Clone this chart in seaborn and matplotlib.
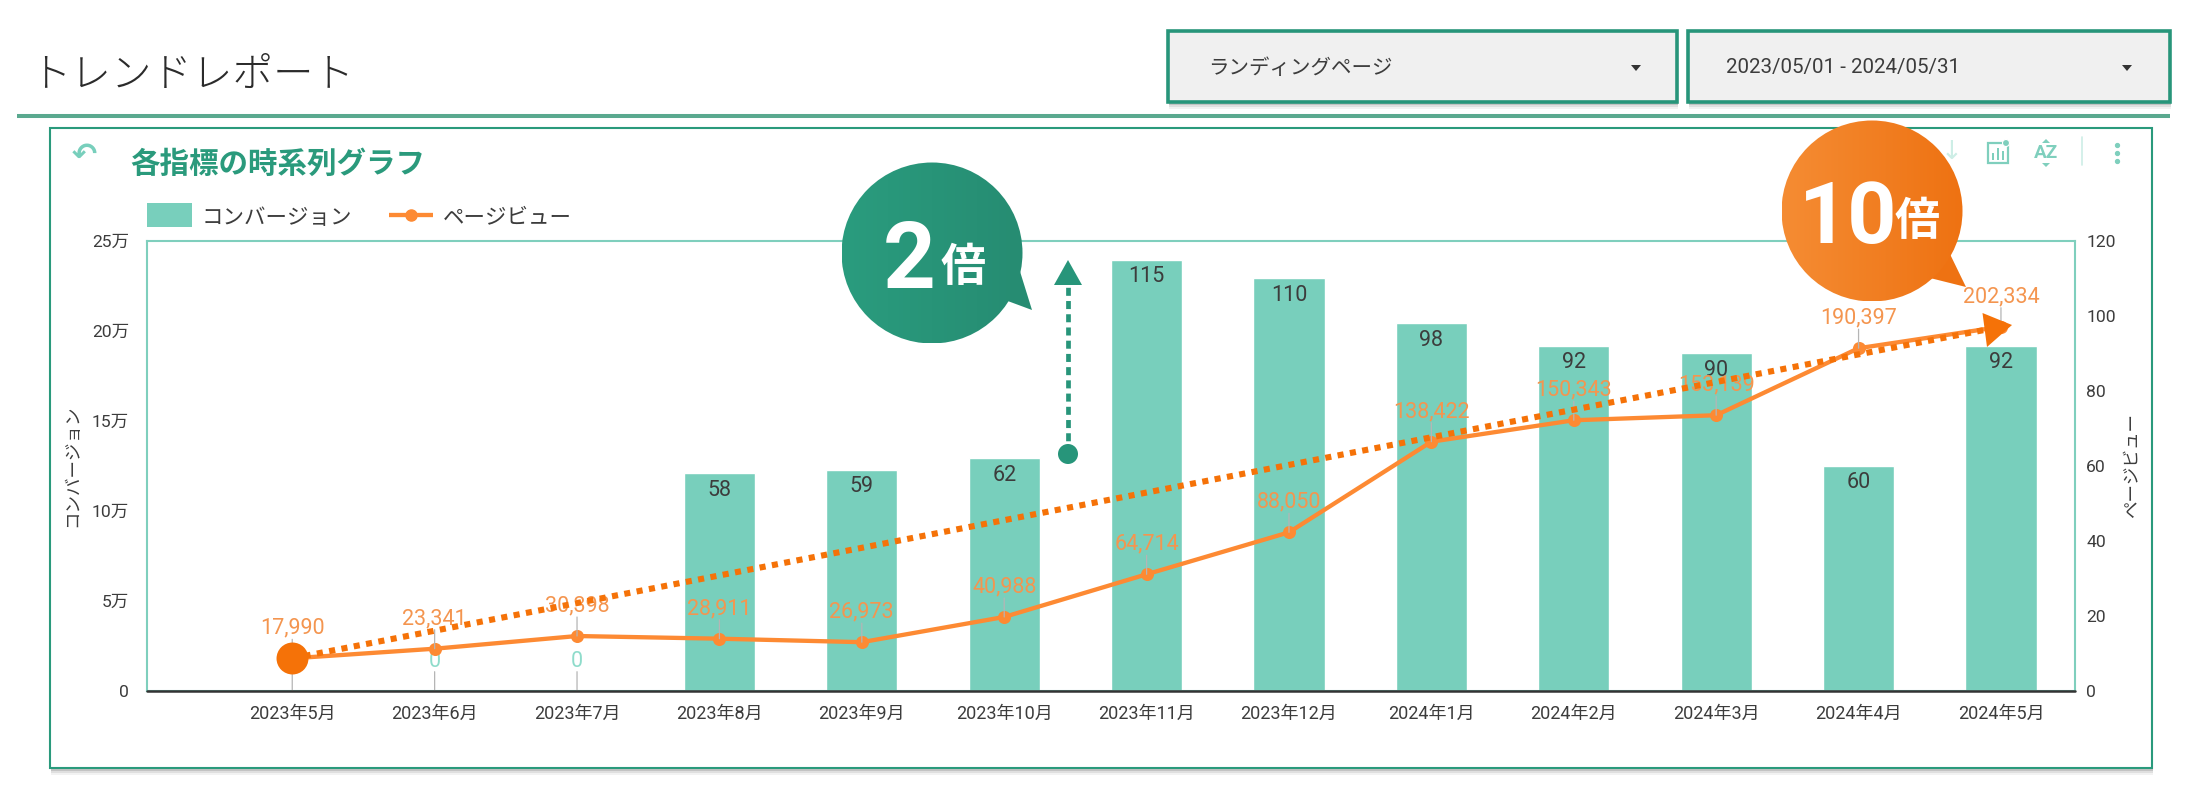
"""Trend report: conversions (bars) and page views (line) per month."""

import matplotlib
matplotlib.use("Agg")

import matplotlib.pyplot as plt
import numpy as np
import pandas as pd
import seaborn as sns
from matplotlib.colors import LinearSegmentedColormap
from matplotlib.patches import Circle, Polygon, Rectangle
from matplotlib.ticker import FixedLocator, FuncFormatter

months = ["2023年5月", "2023年6月", "2023年7月", "2023年8月", "2023年9月", "2023年10月", "2023年11月",
          "2023年12月", "2024年1月", "2024年2月", "2024年3月", "2024年4月", "2024年5月"]
bar_values = [0, 0, 0, 58, 59, 62, 115, 110, 98, 92, 90, 60, 92]
line_values = [17990, 23341, 30398, 28911, 26973, 40988, 64714, 88050, 138422, 150343, 153139, 190397, 202334]
left_ticks = [0, 50000, 100000, 150000, 200000, 250000]
right_ticks = [0, 20, 40, 60, 80, 100, 120]

GREEN = "#27957a"
DARK_GREEN = "#2a9a7c"
BAR = "#78cfbc"
FRAME = "#7fcfbd"
ORANGE = "#fd8a33"
STRONG_ORANGE = "#f57208"
LABEL_ORANGE = "#f4954f"
TEXT = "#3c3c3c"
W, H = 2200, 800

sns.set_theme(style="white")
plt.rcParams["font.family"] = ["Roboto", "Noto Sans CJK JP", "DejaVu Sans"]

df = pd.DataFrame({"month": months, "cv": bar_values, "pv": line_values})
pos = np.arange(len(months))

fig = plt.figure(figsize=(W / 100, H / 100), dpi=100, facecolor="white")


def px_text(ax, x, y, s, size, **kw):
    # size is given in pixels, the figure runs at 100 dpi
    kw.setdefault("va", "center")
    return ax.text(x, y, s, fontsize=size * 0.72, **kw)


def shadow_box(ax, x0, y0, x1, y1, face, edge, lw):
    for i, alpha in enumerate([0.05, 0.08, 0.12]):
        off = 7 - 2 * i
        ax.add_patch(Rectangle((x0 + 1, y0 + off), x1 - x0, y1 - y0, fc="black", ec="none", alpha=alpha))
    ax.add_patch(Rectangle((x0, y0), x1 - x0, y1 - y0, fc=face, ec=edge, lw=lw))


# page chrome below the chart
bg = fig.add_axes([0, 0, 1, 1], zorder=0)
bg.set_xlim(0, W)
bg.set_ylim(H, 0)
bg.axis("off")
px_text(bg, 30, 76, "トレンドレポート", 40.5, color="#2b2b2b", family=["Noto Sans CJK JP"], weight="light")
bg.plot([17, 2170], [116, 116], color="#5aa98f", lw=2.9, solid_capstyle="butt")
shadow_box(bg, 1168, 31, 1677, 102, "#f0f0f0", GREEN, 2.6)
shadow_box(bg, 1688, 31, 2170, 102, "#f0f0f0", GREEN, 2.6)
px_text(bg, 1208, 68, "ランディングページ", 20.5, color=TEXT)
px_text(bg, 1726, 67, "2023/05/01 - 2024/05/31", 20.5, color=TEXT)
for tx in (1636, 2127):
    bg.add_patch(Polygon([(tx - 5, 65), (tx + 5, 65), (tx, 71)], fc="#333333", ec="none"))
shadow_box(bg, 50, 128, 2152, 768, "white", DARK_GREEN, 1.5)

# panel title, legend and toolbar
px_text(bg, 130, 164, "各指標の時系列グラフ", 29.5, color=DARK_GREEN, weight="bold", family=["Noto Sans CJK JP"])
px_text(bg, 84, 155, "↶", 30, color=BAR, ha="center", family=["DejaVu Sans"], weight="bold")
bg.add_patch(Rectangle((147, 203), 44.5, 24, fc=BAR, ec="none"))
px_text(bg, 202, 218, "コンバージョン", 21.5, color=TEXT)
bg.plot([389, 433], [215, 215], color=ORANGE, lw=3.1, solid_capstyle="butt")
bg.plot([411], [215], "o", color=ORANGE, ms=8)
px_text(bg, 443, 218, "ページビュー", 21.5, color=TEXT)
px_text(bg, 1952, 152, "↓", 26, color="#cdeee6", ha="center", family=["DejaVu Sans"])
bg.add_patch(Rectangle((1988, 143), 20, 20, fc="none", ec=FRAME, lw=1.6))
for bx, bh in zip((1993, 1998, 2003), (7, 12, 9)):
    bg.add_patch(Rectangle((bx - 1, 160 - bh), 2.4, bh, fc=FRAME, ec="none"))
bg.add_patch(Circle((2006, 143), 3.5, fc=FRAME, ec="white", lw=0.8))
px_text(bg, 2046, 153, "AZ", 19, color=FRAME, ha="center", weight="bold")
bg.add_patch(Polygon([(2046, 139), (2042, 143), (2050, 143)], fc=FRAME, ec="none"))
bg.add_patch(Polygon([(2046, 167), (2042, 163), (2050, 163)], fc=FRAME, ec="none"))
bg.plot([2082, 2082], [137, 165], color="#cdeee6", lw=1.2)
bg.plot([2117, 2117, 2117], [145, 153, 161], "o", color=FRAME, ms=2.8)

# plot area, given in pixels of the figure
PL, PR, PT, PB = 147, 2075, 241, 690.7
rect = [PL / W, 1 - PB / H, (PR - PL) / W, (PB - PT) / H]

ax_bar = fig.add_axes(rect, zorder=1)
ax_bar.patch.set_alpha(0)
sns.barplot(data=df, x="month", y="cv", color=BAR, saturation=1, width=0.5, ax=ax_bar)
ax_bar.set_xlim(-1.02, 12.52)
ax_bar.set_ylim(0, 120)
ax_bar.set_xlabel("")
ax_bar.set_ylabel("")
for side in ax_bar.spines.values():
    side.set_color(FRAME)
    side.set_linewidth(1.5)

for x, v in zip(pos, bar_values):
    if v > 0:
        ax_bar.annotate(str(v), (x, v), xytext=(0, -17 * 0.72), textcoords="offset points",
                        ha="center", va="center", fontsize=15.5, color=TEXT)
    elif x > 0:
        ax_bar.annotate("0", (x, 0), xytext=(0, 29 * 0.72), textcoords="offset points",
                        ha="center", va="center", fontsize=15.5, color="#8fdccb")
    if v == 0:
        ax_bar.annotate("", (x, 0), xytext=(0, 19 * 0.72 if x > 0 else 32 * 0.72), textcoords="offset points",
                        arrowprops=dict(arrowstyle="-", color="#b5b5b5", lw=0.9, shrinkA=0, shrinkB=0))

ax_line = ax_bar.twinx()
ax_line.patch.set_alpha(0)
sns.lineplot(data=df, x="month", y="pv", sort=False, color=ORANGE, lw=3.1, marker="o", ms=9.4,
             markeredgewidth=0, ax=ax_line, legend=False)
ax_line.set_ylim(0, 250000)
ax_line.set_xlabel("")
ax_line.set_ylabel("")
for side in ax_line.spines.values():
    side.set_visible(False)
ax_line.axhline(0, color="#333333", lw=1.8, zorder=1, clip_on=False)

# twinx moves the ticks, so the sides are settled only here
ax_bar.yaxis.tick_right()
ax_bar.yaxis.set_major_locator(FixedLocator(right_ticks))
ax_bar.tick_params(axis="y", length=0, labelsize=12.6, labelcolor=TEXT, pad=8, right=False, left=False,
                   labelright=True, labelleft=False)
ax_bar.tick_params(axis="x", length=0, labelsize=13, labelcolor=TEXT, pad=10)
ax_line.yaxis.tick_left()
ax_line.yaxis.set_major_locator(FixedLocator(left_ticks))
ax_line.yaxis.set_major_formatter(FuncFormatter(lambda v, _: f"{v / 10000:.0f}万" if v else "0"))
ax_line.tick_params(axis="y", length=0, labelsize=12.6, labelcolor=TEXT, pad=13, right=False, left=False,
                    labelleft=True, labelright=False)

for x, v in zip(pos, line_values):
    ax_line.annotate(f"{v:,}", (x, v), xytext=(0, 30 * 0.72), textcoords="offset points",
                     ha="center", va="center", fontsize=15.5, color=LABEL_ORANGE)
    ax_line.annotate("", (x, v), xytext=(0, 19 * 0.72), textcoords="offset points",
                     arrowprops=dict(arrowstyle="-", color="#b5b5b5", lw=0.9, shrinkA=0, shrinkB=0))

# big start marker and dotted trend from the first to the last month
ax_line.plot(pos[0], line_values[0], "o", color=STRONG_ORANGE, ms=23, mew=0, zorder=6)
ax_line.plot([pos[0], pos[-1]], [line_values[0], line_values[-1]], color=STRONG_ORANGE, lw=4.4,
             ls=(0, (1, 1.05)), dash_capstyle="butt", zorder=6)

# call-outs on top of everything
top = fig.add_axes([0, 0, 1, 1], zorder=5)
top.set_xlim(0, W)
top.set_ylim(H, 0)
top.axis("off")
top.patch.set_alpha(0)
px_text(top, 73, 466, "コンバージョン", 17.5, color=TEXT, rotation=90, ha="center")
px_text(top, 2133, 465, "ページビュー", 17.5, color=TEXT, rotation=90, ha="center")
top.add_patch(Polygon([(1982.5, 313), (2012, 325), (1987, 347)], fc=STRONG_ORANGE, ec="none"))

# green arrow
top.plot([1068, 1068], [454, 285], color=GREEN, lw=3.4, ls=(0, (1.7, 1.1)), dash_capstyle="butt")
top.add_patch(Circle((1068, 454), 10, fc=GREEN, ec="none"))
top.add_patch(Polygon([(1068, 260), (1054, 285), (1082, 285)], fc=GREEN, ec="none"))


def bubble(cx, cy, tail, c0, c1):
    r = 90.5
    circ = Circle((cx, cy), r, fc="none", ec="none")
    top.add_patch(circ)
    top.add_patch(Polygon(tail, fc=c1, ec="none"))
    cmap = LinearSegmentedColormap.from_list("g", [c0, c1])
    grad = np.linspace(0, 1, 64)[None, :]
    im = top.imshow(grad, extent=(cx - r, cx + r, cy + r, cy - r), cmap=cmap, aspect="auto", zorder=3)
    im.set_clip_path(circ)
    top.set_xlim(0, W)
    top.set_ylim(H, 0)


bubble(932, 253, [(1005, 300), (1032, 310), (1018, 265)], "#2a9c7e", "#268c72")
px_text(top, 909, 263, "2", 92, color="white", weight="bold", ha="center", zorder=4)
px_text(top, 963, 268, "倍", 45, color="white", weight="bold", ha="center", zorder=4,
        family=["Noto Sans CJK JP"])

bubble(1872, 211, [(1930, 278), (1966, 287), (1948, 250)], "#f58c33", "#ee7212")
px_text(top, 1848, 219, "10", 86, color="white", weight="bold", ha="center", zorder=4)
px_text(top, 1917, 222, "倍", 45, color="white", weight="bold", ha="center", zorder=4,
        family=["Noto Sans CJK JP"])

fig.savefig("out.png", dpi=100)
plt.close(fig)
